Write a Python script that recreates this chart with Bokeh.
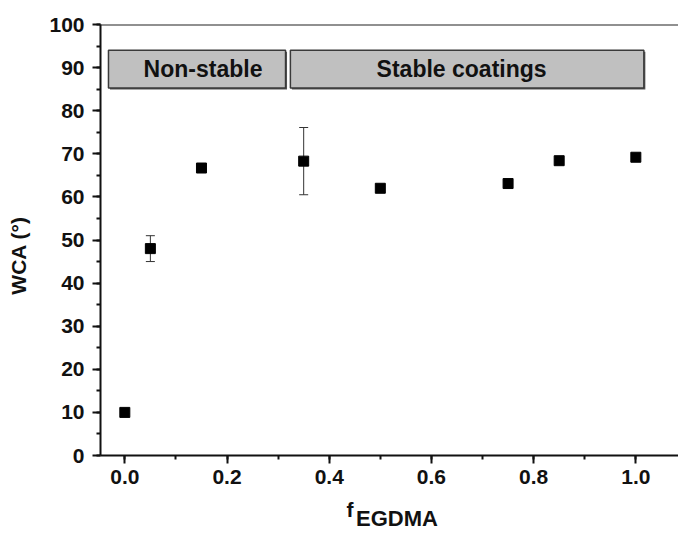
import math
from bokeh.plotting import figure
from bokeh.models import (Range1d, SingleIntervalTicker, FixedTicker, PrintfTickFormatter, Whisker,
                          ColumnDataSource, Span, TeeHead, LinearAxis)
from bokeh.embed import file_html
from bokeh.resources import INLINE

# ---- data ----
f_egdma = [0.0, 0.05, 0.15, 0.35, 0.5, 0.75, 0.85, 1.0]
wca = [10.0, 48.0, 66.7, 68.3, 62.0, 63.1, 68.4, 69.2]
wca_err = [0.3, 3.0, 0.6, 7.8, 0.3, 0.6, 0.3, 0.3]

region_labels = ["Non-stable", "Stable coatings"]
region_left = [-0.032, 0.324]
region_right = [0.3145, 1.0157]
region_text_x = [0.153, 0.659]
band_bottom, band_top = 85.25, 94.0

x_ticks_interval = 0.2
y_ticks_interval = 10

FONT = "Liberation Sans"

p = figure(width=678, height=533, output_backend="svg", toolbar_location=None,
           x_range=Range1d(-0.0476, 1.0835), y_range=Range1d(0, 100),
           min_border_left=100, min_border_top=24, min_border_right=0, min_border_bottom=77)
p.outline_line_color = None
p.xgrid.visible = False
p.ygrid.visible = False

for ax, interval in ((p.xaxis[0], x_ticks_interval), (p.yaxis[0], y_ticks_interval)):
    ax.ticker = SingleIntervalTicker(interval=interval, num_minor_ticks=2)
    ax.axis_line_width = 2
    ax.axis_line_color = "#111111"
    ax.major_tick_line_width = 2
    ax.minor_tick_line_width = 2
    ax.major_tick_line_color = "#111111"
    ax.minor_tick_line_color = "#111111"
    ax.major_tick_in = 0
    ax.major_tick_out = 8
    ax.minor_tick_in = 0
    ax.minor_tick_out = 4
    ax.major_label_text_font = FONT
    ax.major_label_text_font_style = "bold"
    ax.major_label_text_font_size = "21px"
    ax.major_label_text_color = "#111111"

p.xaxis[0].formatter = PrintfTickFormatter(format="%.1f")
p.xaxis[0].major_label_standoff = 6
p.yaxis[0].major_label_standoff = 8


def title_axis(loc, pos, text, orientation="horizontal", size="21px"):
    ax = LinearAxis(ticker=FixedTicker(ticks=[pos]), major_label_overrides={pos: text})
    ax.axis_line_color = None
    ax.major_tick_line_color = None
    ax.minor_tick_line_color = None
    ax.major_tick_in = 0
    ax.major_tick_out = 0
    ax.minor_tick_in = 0
    ax.minor_tick_out = 0
    ax.major_label_text_font = FONT
    ax.major_label_text_font_style = "bold"
    ax.major_label_text_font_size = size
    ax.major_label_text_color = "#111111"
    ax.major_label_orientation = orientation
    p.add_layout(ax, loc)
    return ax


# y-axis title
ya = title_axis("left", 46.4, "WCA (°)", orientation="vertical")
ya.major_label_standoff = 16

# x-axis title: "f" with subscript "EGDMA"
xa_f = title_axis("below", 0.4407, "f", size="21px")
xa_f.major_label_standoff = 11
xa_sub = title_axis("below", 0.5327, "EGDMA", size="22px")
xa_sub.major_label_standoff = -18

# top frame line
p.add_layout(Span(location=100, dimension="width", line_width=2, line_color="#222222"))

# region bands
dx, dy = 1.5 / 511, 1.5 / 4.32
p.quad(left=[l + dx for l in region_left], right=[r + dx for r in region_right],
       bottom=band_bottom - dy, top=band_top - dy, fill_color="#555555", line_color=None)
p.quad(left=region_left, right=region_right, bottom=band_bottom, top=band_top,
       fill_color="#c0c0c0", line_color="#3a3a3a", line_width=1.5)
band_src = ColumnDataSource(dict(x=region_text_x, y=[(band_bottom + band_top) / 2] * 2, t=region_labels))
p.text(x="x", y="y", text="t", source=band_src, text_align="center", text_baseline="middle",
       text_font={"value": FONT}, text_font_style="bold", text_font_size="23px", text_color="#111111")

# error bars + points
src = ColumnDataSource(dict(x=f_egdma, y=wca,
                            lo=[v - e for v, e in zip(wca, wca_err)],
                            hi=[v + e for v, e in zip(wca, wca_err)]))
w = Whisker(base="x", upper="hi", lower="lo", source=src, dimension="height",
            line_color="#333333", line_width=1,
            upper_head=TeeHead(size=9, line_color="#333333", line_width=1),
            lower_head=TeeHead(size=9, line_color="#333333", line_width=1))
p.add_layout(w)
p.scatter(x="x", y="y", source=src, marker="square", size=10, fill_color="black", line_color="black")

open("out.html", "w").write(file_html(p, INLINE))
